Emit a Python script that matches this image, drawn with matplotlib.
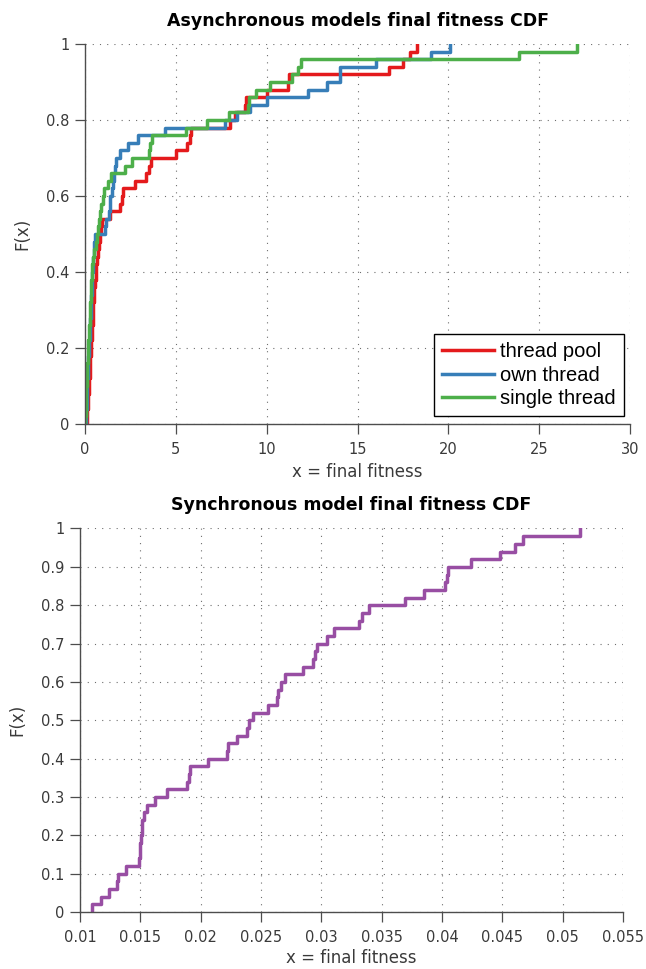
import numpy as np
import matplotlib
matplotlib.use("Agg")
import matplotlib.pyplot as plt

# ---------------- data (sorted final-fitness samples, 50 runs each) ----------------
thread_pool = [0.10, 0.12, 0.15, 0.17, 0.20, 0.24, 0.26, 0.28, 0.30, 0.33,
               0.35, 0.37, 0.39, 0.42, 0.44, 0.46, 0.48, 0.50, 0.54, 0.58,
               0.62, 0.66, 0.70, 0.75, 0.80, 0.86, 0.95, 1.40, 1.93, 2.05,
               2.10, 2.75, 3.38, 3.52, 3.62, 5.02, 5.60, 5.78, 5.82, 7.98,
               8.25, 8.80, 8.85, 10.00, 11.19, 11.22, 16.75, 17.48, 17.89, 18.29]

own_thread = [0.06, 0.08, 0.10, 0.11, 0.12, 0.13, 0.15, 0.17, 0.19, 0.21,
              0.23, 0.25, 0.27, 0.29, 0.31, 0.33, 0.35, 0.37, 0.39, 0.41,
              0.43, 0.45, 0.48, 0.52, 0.56, 1.12, 1.14, 1.30, 1.36, 1.40,
              1.47, 1.52, 1.60, 1.66, 1.72, 1.93, 2.39, 2.94, 4.42, 7.70,
              8.34, 9.08, 10.00, 12.30, 13.30, 14.03, 14.05, 16.00, 19.02, 20.09]

single_thread = [0.02, 0.04, 0.05, 0.07, 0.08, 0.10, 0.11, 0.13, 0.15, 0.17,
                 0.19, 0.21, 0.23, 0.25, 0.27, 0.29, 0.31, 0.33, 0.35, 0.37,
                 0.40, 0.45, 0.52, 0.58, 0.65, 0.72, 0.78, 0.82, 0.90, 0.98,
                 1.05, 1.25, 1.45, 2.20, 2.57, 3.50, 3.58, 3.67, 5.55, 6.70,
                 7.90, 8.97, 9.00, 9.41, 10.18, 11.37, 11.75, 11.90, 23.90, 27.06]

synchronous = [0.01097, 0.01171, 0.01243, 0.01310, 0.01318, 0.01381, 0.01492, 0.01495, 0.01500, 0.01505,
               0.01512, 0.01518, 0.01530, 0.01553, 0.01622, 0.01724, 0.01884, 0.01900, 0.01915, 0.02064,
               0.02216, 0.02230, 0.02300, 0.02382, 0.02400, 0.02437, 0.02562, 0.02631, 0.02645, 0.02664,
               0.02700, 0.02852, 0.02935, 0.02950, 0.02962, 0.03051, 0.03106, 0.03316, 0.03336, 0.03391,
               0.03695, 0.03852, 0.04027, 0.04040, 0.04050, 0.04240, 0.04483, 0.04607, 0.04670, 0.05140]

async_labels = ["thread pool", "own thread", "single thread"]
async_colors = ["#E41A1C", "#377EB8", "#4DAF4A"]
sync_color = "#984EA3"

top_xticks = [0, 5, 10, 15, 20, 25, 30]
top_yticks = [0, 0.2, 0.4, 0.6, 0.8, 1]
top_yticklabels = ["0", "0.2", "0.4", "0.6", "0.8", "1"]
bot_xticks = [0.01, 0.015, 0.02, 0.025, 0.03, 0.035, 0.04, 0.045, 0.05, 0.055]
bot_xticklabels = ["0.01", "0.015", "0.02", "0.025", "0.03", "0.035", "0.04", "0.045", "0.05", "0.055"]
bot_yticks = [0, 0.1, 0.2, 0.3, 0.4, 0.5, 0.6, 0.7, 0.8, 0.9, 1]
bot_yticklabels = ["0", "0.1", "0.2", "0.3", "0.4", "0.5", "0.6", "0.7", "0.8", "0.9", "1"]


def ecdf(samples):
    s = np.sort(np.asarray(samples, dtype=float))
    n = len(s)
    xs = np.r_[s[0], s]
    ys = np.r_[0.0, np.arange(1, n + 1) / n]
    return xs, ys


plt.rcParams["font.family"] = ["DejaVu Sans"]

SPINE = "#4d4d4d"
LABELC = "#3a3a3a"


def style(ax):
    for side in ("top", "right"):
        ax.spines[side].set_visible(False)
    for side in ("left", "bottom"):
        ax.spines[side].set_color(SPINE)
        ax.spines[side].set_linewidth(1.0)
    ax.tick_params(direction="out", length=7, width=0.9, color=SPINE,
                   labelcolor=LABELC, labelsize=10.5)
    ax.tick_params(axis="x", pad=6)
    ax.tick_params(axis="y", pad=4)
    ax.grid(True, linestyle=(0, (1, 5.5)), color="#6e6e6e", linewidth=0.8)
    ax.set_axisbelow(True)


fig = plt.figure(figsize=(6.46, 9.69), dpi=100)

# ---------------- top: asynchronous ----------------
ax1 = fig.add_axes([0.1316, 0.5624, 0.8437, 0.3922])
for data, lab, col in zip([thread_pool, own_thread, single_thread], async_labels, async_colors):
    xs, ys = ecdf(data)
    ax1.step(xs, ys, where="post", color=col, linewidth=2.5, label=lab)
ax1.set_xlim(0, 30)
ax1.set_ylim(0, 1)
ax1.set_xticks(top_xticks)
ax1.set_xticklabels([str(t) for t in top_xticks])
ax1.set_yticks(top_yticks)
ax1.set_yticklabels(top_yticklabels)
style(ax1)
ax1.set_title("Asynchronous models final fitness CDF", fontsize=12.5, fontweight="bold", pad=13)
ax1.set_xlabel("x = final fitness", fontsize=12, color=LABELC, labelpad=4)
ax1.set_ylabel("F(x)", fontsize=12, color=LABELC, labelpad=11)
leg = ax1.legend(loc="lower right", bbox_to_anchor=(0.989, 0.021), borderaxespad=0,
                 prop={"family": "Liberation Sans", "size": 14.5},
                 handlelength=2.6, handletextpad=0.3, labelspacing=0.22,
                 borderpad=0.4, fancybox=False, framealpha=1, edgecolor="black")
leg.get_frame().set_linewidth(1.0)

# ---------------- bottom: synchronous ----------------
ax2 = fig.add_axes([0.1238, 0.0588, 0.8406, 0.3958])
xs, ys = ecdf(synchronous)
ax2.step(xs, ys, where="post", color=sync_color, linewidth=2.5)
ax2.set_xlim(0.01, 0.055)
ax2.set_ylim(0, 1)
ax2.set_xticks(bot_xticks)
ax2.set_xticklabels(bot_xticklabels)
ax2.set_yticks(bot_yticks)
ax2.set_yticklabels(bot_yticklabels)
style(ax2)
ax2.set_title("Synchronous model final fitness CDF", fontsize=12.5, fontweight="bold", pad=13)
ax2.set_xlabel("x = final fitness", fontsize=12, color=LABELC, labelpad=3)
ax2.set_ylabel("F(x)", fontsize=12, color=LABELC, labelpad=11)

fig.savefig("out.png", dpi=100)
